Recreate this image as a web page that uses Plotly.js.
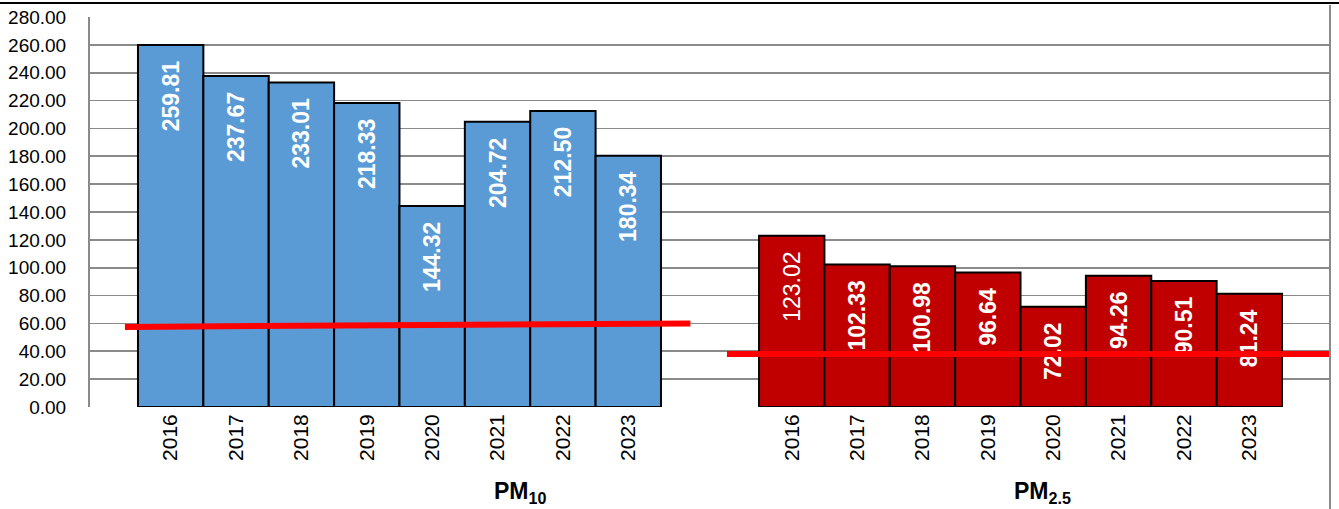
<!DOCTYPE html>
<html>
<head>
<meta charset="utf-8">
<script src="https://cdn.plot.ly/plotly-3.0.1.min.js"></script>
<style>
html,body{margin:0;padding:0;background:#fff;}
#chart{width:1339px;height:509px;}
</style>
</head>
<body>
<div id="chart"></div>
<script>
// ---- data ----
const years = ['2016','2017','2018','2019','2020','2021','2022','2023'];
const pm10 = [259.81, 237.67, 233.01, 218.33, 144.32, 204.72, 212.50, 180.34];
const pm25 = [123.02, 102.33, 100.98, 96.64, 72.02, 94.26, 90.51, 81.24];
const pm10Limit = [57.5, 60.0];   // red reference line (as drawn, slightly sloped)
const pm25Limit = [38.0, 38.0];
const groupNames = ['PM<sub>10</sub>', 'PM<sub>2.5</sub>'];

// ---- layout helpers ----
const groupGap = 1.5;
const x10 = years.map((_, i) => i);
const x25 = years.map((_, i) => i + years.length + groupGap);
const xMin = -1.234, xMax = x25[x25.length - 1] + 1.234;

const labelFont = 'Liberation Sans, Arial, sans-serif';
const pad = '\u00a0\u00a0';
const fmt = v => v.toFixed(2) + pad;

const traces = [
  {
    type: 'bar', x: x10, y: pm10, width: 1,
    marker: {color: '#5B9BD5', line: {color: '#000', width: 2}},
    text: pm10.map(fmt), textposition: 'inside', insidetextanchor: 'end',
    textangle: -90, constraintext: 'none',
    textfont: {family: labelFont, size: 23, color: '#fff', weight: 700},
    hoverinfo: 'skip', showlegend: false
  },
  {
    type: 'bar', x: x25, y: pm25, width: 1,
    marker: {color: '#C00000', line: {color: '#000', width: 2}},
    text: pm25.map(fmt), textposition: 'inside', insidetextanchor: 'end',
    textangle: -90, constraintext: 'none',
    textfont: {family: labelFont, size: 23, color: '#fff',
               weight: pm25.map((_, i) => i === 0 ? 400 : 700)},
    hoverinfo: 'skip', showlegend: false
  },
  {
    type: 'scatter', mode: 'lines',
    x: [x10[0] - 0.7, x10[x10.length - 1] + 0.95], y: pm10Limit,
    line: {color: '#FF0000', width: 6}, hoverinfo: 'skip', showlegend: false, cliponaxis: false
  },
  {
    type: 'scatter', mode: 'lines',
    x: [x25[0] - 0.99, xMax], y: pm25Limit,
    line: {color: '#FF0000', width: 6}, hoverinfo: 'skip', showlegend: false, cliponaxis: false
  }
];

const W = 1339, H = 509;
const m = {l: 90, r: 9, t: 17, b: 102};
const pw = W - m.l - m.r, ph = H - m.t - m.b;

const layout = {
  width: W, height: H,
  margin: m,
  paper_bgcolor: '#fff', plot_bgcolor: '#fff',
  bargap: 0,
  xaxis: {
    range: [xMin, xMax], showgrid: false, zeroline: false, showline: false,
    tickmode: 'array', tickvals: x10.concat(x25), ticktext: years.concat(years),
    tickangle: -90, ticks: '', ticklabelstandoff: 2,
    tickfont: {family: labelFont, size: 21, color: '#000'}
  },
  yaxis: {
    range: [0, 280], dtick: 20, tick0: 0, tickformat: '.2f',
    showgrid: true, gridcolor: '#8a8a8a', gridwidth: 1.6,
    zeroline: false, showline: true, linecolor: '#8a8a8a', linewidth: 2,
    ticks: '', ticklabelstandoff: 18,
    tickfont: {family: labelFont, size: 19, color: '#000'}
  },
  shapes: [
    {type: 'line', xref: 'paper', yref: 'paper',
     x0: -m.l / pw, x1: 1 + m.r / pw, y0: 1 + 14 / ph, y1: 1 + 14 / ph,
     line: {color: '#000', width: 2}},
    {type: 'line', xref: 'paper', yref: 'paper',
     x0: 1, x1: 1, y0: -m.b / ph, y1: 1 + 12 / ph,
     line: {color: '#8a8a8a', width: 2}}
  ],
  annotations: [
    {xref: 'paper', yref: 'paper', x: (520 - m.l) / pw, y: 0, yshift: -85,
     xanchor: 'center', yanchor: 'middle', showarrow: false, text: groupNames[0],
     font: {family: labelFont, size: 23, color: '#000', weight: 700}},
    {xref: 'paper', yref: 'paper', x: (1042 - m.l) / pw, y: 0, yshift: -85,
     xanchor: 'center', yanchor: 'middle', showarrow: false, text: groupNames[1],
     font: {family: labelFont, size: 23, color: '#000', weight: 700}}
  ]
};

Plotly.newPlot('chart', traces, layout, {staticPlot: true, displayModeBar: false});
</script>
</body>
</html>
